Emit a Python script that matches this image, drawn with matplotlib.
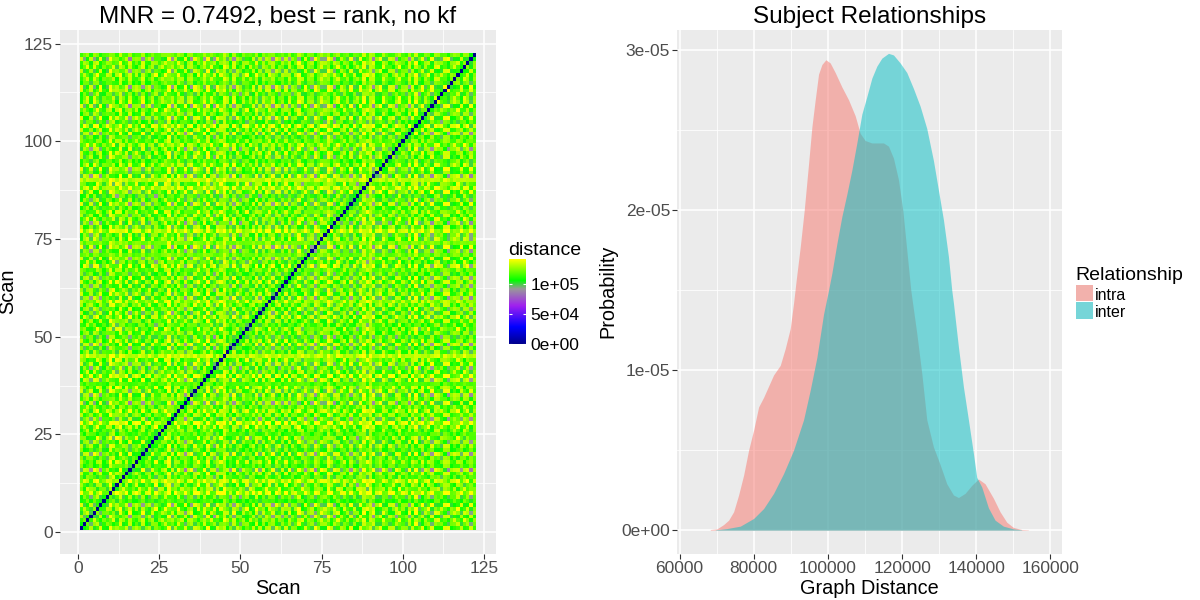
import numpy as np
import matplotlib
matplotlib.use("Agg")
import matplotlib.pyplot as plt
from matplotlib.colors import LinearSegmentedColormap
from matplotlib.patches import Rectangle

plt.rcParams['font.family'] = ['Liberation Sans', 'DejaVu Sans']

# per-scan offsets (thousands) estimated from stripes in the picture
scan_level = [2,-1,3,-3,1,4,0,-5,-3,13,
              3,1,12,-2,3,0,-2,4,-1,2,
              -3,1,-1,3,-2,0,5,14,-4,3,
              7,1,-2,3,0,2,6,-1,3,9,
              0,-3,2,4,14,-1,-5,2,3,-5,
              1,3,-2,2,5,-1,0,3,9,-2,
              3,0,-2,4,1,-3,2,6,-1,0,
              3,-2,1,5,2,-1,14,1,-2,3,
              0,4,-2,1,-1,-5,3,11,2,13,
              1,-3,2,4,-2,0,3,-1,5,2,
              -3,1,3,10,-5,2,0,4,-1,3,
              2,-3,6,0,-2,3,5,-1,2,4,
              -3,2]
# hand-typed per-scan texture terms (cell detail is approximated, not read cell by cell)
texture_a = [1.8,-2.4,0.6,2.9,-1.2,-3.1,2.2,0.4,-2.7,1.1,
             3.0,-0.8,-1.9,2.5,0.9,-2.9,1.4,-0.5,2.7,-2.2,
             0.7,3.1,-1.6,-2.5,1.9,0.3,-3.0,2.3,-1.0,1.5,
             -2.8,0.8,2.6,-0.6,-2.1,3.2,-1.4,1.0,-2.6,2.0,
             0.5,-3.2,2.8,-1.7,1.3,-0.4,2.4,-2.3,0.2,3.0,
             -1.1,-2.7,1.7,2.1,-3.0,0.6,-1.5,2.9,-0.7,-2.0,
             1.2,3.1,-2.4,0.1,-1.8,2.6,-0.9,-3.1,1.6,2.2,
             -0.3,-2.5,3.0,0.9,-1.3,-2.8,2.0,1.1,-3.2,0.4,
             2.7,-1.6,-0.2,2.3,-2.6,1.4,3.1,-1.0,-2.2,0.8,
             -3.0,1.9,2.5,-0.6,-1.7,3.0,0.3,-2.9,1.0,-0.4,
             2.4,-2.1,0.7,-3.1,2.8,1.5,-1.2,-2.4,3.2,-0.8,
             0.2,-2.7,1.8,2.6,-1.5,-0.1,-3.0,2.1,0.6,-1.9,
             2.9,-0.5]
texture_b = [-2.1,0.9,2.7,-1.4,3.0,-0.6,-2.8,1.6,0.3,-2.4,
             2.0,-3.1,0.7,1.2,-2.2,2.9,-1.0,-2.6,0.5,3.1,
             -1.8,-0.3,2.4,-2.9,1.1,2.6,-0.7,-2.0,3.0,-1.5,
             0.4,2.2,-2.7,1.7,2.8,-1.1,-3.0,0.6,2.1,-2.3,
             3.2,0.2,-1.6,-2.5,1.0,2.7,-0.9,3.0,-2.8,-0.1,
             1.9,-2.2,2.5,-1.3,0.8,-3.1,2.3,0.1,-1.9,2.8,
             -2.6,0.5,1.4,-3.0,2.6,-0.4,-1.7,2.0,3.1,-2.4,
             0.9,1.6,-2.9,-0.2,2.9,0.7,-1.2,-2.5,1.3,3.0,
             -0.8,-2.0,2.2,-2.7,0.6,3.1,-1.4,1.8,-3.0,0.0,
             2.5,-1.1,-2.3,2.8,0.4,-0.9,-2.6,1.5,3.0,-1.8,
             -0.5,2.9,-2.4,1.2,0.7,-3.1,2.1,-1.0,-2.2,2.7,
             3.0,-0.3,-1.7,-2.8,1.1,2.4,-0.6,-2.1,3.1,0.9,
             -2.5,1.3]
base_distance = 116000
scale_max = 141000

# density curves
intra_x = [68266,70063,71860,73208,74555,75903,77251,78598,79946,81294,82642,83989,85337,87134,88482,89829,90728,
           91447,92525,93603,94771,95670,96568,97466,98365,99443,100611,101959,103756,105553,107350,108697,110045,
           111842,114987,116334,117682,119030,120198,121276,122354,123971,125319,126667,128464,130261,132058,133854,
           135202,137000,138796,140593,142390,144636,146433,148230,150027,152273,154070]
intra_y = [0.004,0.008,0.035,0.0625,0.115,0.22,0.344,0.5,0.625,0.77,0.83,0.9,0.97,1.03,1.135,1.26,1.42,
           1.565,1.77,2.0,2.29,2.52,2.69,2.85,2.91,2.94,2.92,2.86,2.77,2.69,2.59,2.48,2.435,
           2.42,2.42,2.4,2.325,2.19,2.0,1.75,1.5,1.23,0.98,0.69,0.52,0.41,0.29,0.22,
           0.204,0.23,0.28,0.32,0.29,0.2,0.115,0.05,0.017,0.004,0.002]
inter_x = [69614,72759,76352,79946,82642,85337,88032,90728,93423,95220,97017,98814,100162,101060,102408,103756,
           105104,106451,107799,109146,110494,111842,113189,114537,116334,117682,119479,121276,123073,124870,126667,
           128464,129811,131159,132507,133405,133854,135202,136550,137898,139245,140144,141491,143288,145085,147331,150027,152273]
inter_y = [0.002,0.01,0.025,0.073,0.135,0.23,0.354,0.5,0.69,0.875,1.08,1.35,1.5,1.606,1.79,1.96,
           2.1,2.25,2.42,2.6,2.71,2.825,2.9,2.95,2.98,2.97,2.92,2.86,2.76,2.65,2.51,
           2.31,2.125,1.94,1.71,1.5,1.42,1.146,0.896,0.69,0.48,0.33,0.27,0.14,0.0625,0.025,0.008,0.002]
colour_stops = [(0.0,'#00008B'),(0.2,'#0000FF'),(0.45,'#A020F0'),(0.65,'#999999'),(0.75,'#00FF00'),(1.0,'#FFFF00')]

W, H = 1200, 600
PANEL = '#EBEBEB'
TICK = '#4D4D4D'
fig = plt.figure(figsize=(12, 6), dpi=100, facecolor='white')

def panel(x0, x1, y0, y1):
    ax = fig.add_axes([x0/W, 1-y1/H, (x1-x0)/W, (y1-y0)/H], facecolor=PANEL)
    for s in ax.spines.values():
        s.set_visible(False)
    ax.set_axisbelow(True)
    ax.grid(True, which='major', color='white', lw=1.1)
    ax.grid(True, which='minor', color='white', lw=0.55)
    ax.tick_params(which='major', length=3.5, width=0.8, color='#333333', labelcolor=TICK, labelsize=12.5, pad=1.5)
    ax.tick_params(which='minor', length=0)
    return ax

cmap = LinearSegmentedColormap.from_list('dist', colour_stops)

# heatmap
ax1 = panel(59.8, 495.8, 29.5, 554)
lv, ta, tb = np.array(scan_level, float), np.array(texture_a), np.array(texture_b)
dist = base_distance + 1000*(lv[:, None] + lv[None, :] + 1.9*ta[:, None]*ta[None, :] + 1.9*tb[:, None]*tb[None, :])
np.fill_diagonal(dist, 0)
edges = np.arange(0.5, 123.5)
ax1.pcolormesh(edges, edges, dist, cmap=cmap, vmin=0, vmax=scale_max, antialiased=False, linewidth=0)
ax1.set_xlim(-5.6, 128.6)
ax1.set_ylim(-5.6, 128.6)
ticks = [0, 25, 50, 75, 100, 125]
ax1.set_xticks(ticks); ax1.set_yticks(ticks)
ax1.set_xticks([12.5, 37.5, 62.5, 87.5, 112.5], minor=True)
ax1.set_yticks([12.5, 37.5, 62.5, 87.5, 112.5], minor=True)
ax1.set_xlabel('Scan', fontsize=14.3, labelpad=2.5)
ax1.set_ylabel('Scan', fontsize=14.3)
ax1.yaxis.set_label_coords((17-59.8)/436, 0.5)
ax1.set_title('MNR = 0.7492, best = rank, no kf', fontsize=17.5, pad=5)

# colourbar
cax = fig.add_axes([509/W, 1-344/H, 17/W, 85/H])
grad = np.linspace(0, 1, 256)[:, None]
cax.imshow(grad, aspect='auto', origin='lower', cmap=cmap, extent=[0, 1, 0, scale_max], interpolation='bilinear')
cax.set_xticks([])
cax.yaxis.tick_right()
cbar_ticks = [0, 50000, 100000]
cbar_labels = ['0e+00', '5e+04', '1e+05']
cax.set_yticks(cbar_ticks, cbar_labels)
cax.tick_params(axis='y', length=0, labelsize=12.6, pad=3, labelcolor='black')
for s in cax.spines.values():
    s.set_visible(False)
for t in cbar_ticks:
    cax.plot([0, 0.2], [t, t], color='white', lw=0.8, solid_capstyle='butt')
    cax.plot([0.8, 1], [t, t], color='white', lw=0.8, solid_capstyle='butt')
cax.set_xlim(0, 1); cax.set_ylim(-700, scale_max)
fig.text(508/W, 1-250/H, 'distance', fontsize=14, va='center', ha='left')

# densities
ax2 = panel(677, 1062, 29.5, 554)
ax2.fill_between(intra_x, 0, np.array(intra_y)*1e-5, color='#F8766D', alpha=0.5, lw=0)
ax2.fill_between(inter_x, 0, np.array(inter_y)*1e-5, color='#00BFC4', alpha=0.5, lw=0)
ax2.set_xlim(59280, 163145)
ax2.set_ylim(-0.149e-5, 3.129e-5)
ax2.set_xticks(range(60000, 160001, 20000), ['60000', '80000', '100000', '120000', '140000', '160000'])
ax2.set_xticks(range(70000, 160000, 20000), minor=True)
ax2.set_yticks([0, 1e-5, 2e-5, 3e-5], ['0e+00', '1e-05', '2e-05', '3e-05'])
ax2.set_yticks([0.5e-5, 1.5e-5, 2.5e-5], minor=True)
ax2.set_xlabel('Graph Distance', fontsize=14.3, labelpad=2.5)
ax2.set_ylabel('Probability', fontsize=14.3)
ax2.yaxis.set_label_coords((617-677)/385, 0.5)
ax2.set_title('Subject Relationships', fontsize=17.5, pad=5)

# legend
fig.text(1075/W, 1-276/H, 'Relationship', fontsize=14, va='center', ha='left')
legend_names = ['intra', 'inter']
legend_cols = ['#F2B1AC', '#76D5D8']
for i, (n, c) in enumerate(zip(legend_names, legend_cols)):
    y0 = 285 + i*17
    fig.add_artist(Rectangle((1076/W, 1-(y0+16.5)/H), 16.5/W, 16.5/H, transform=fig.transFigure, fc=c, ec='none'))
    fig.text(1095/W, 1-(y0+10.5)/H, n, fontsize=11.5, va='center', ha='left')

fig.savefig('out.png', dpi=100)
